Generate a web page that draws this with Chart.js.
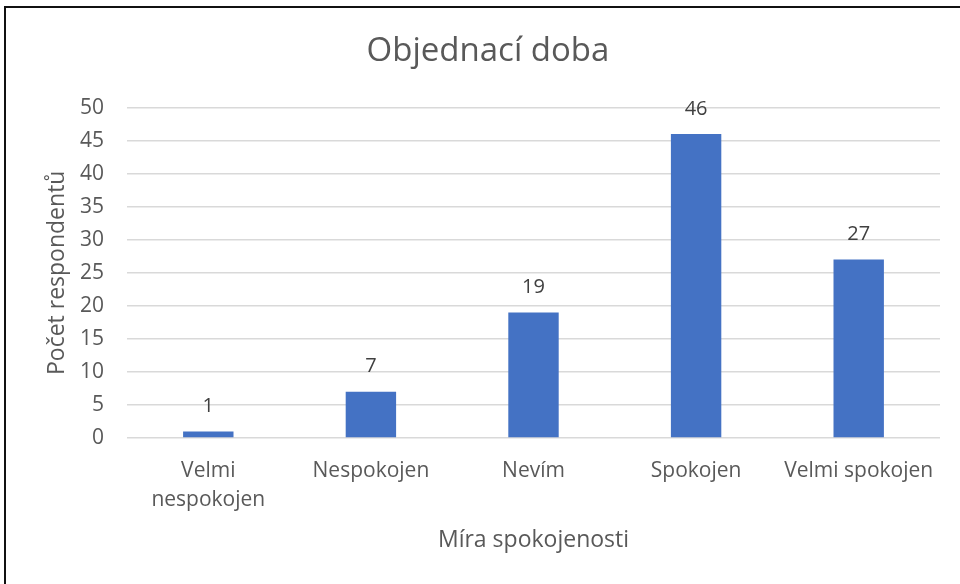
<!DOCTYPE html>
<html>
<head>
<meta charset="utf-8">
<script src="https://cdn.jsdelivr.net/npm/chart.js@4"></script>
<style>
  html, body { margin: 0; padding: 0; background: #fff; }
  #wrap {
    position: absolute; left: 4px; top: 6px; width: 956px; height: 578px;
    border-left: 2px solid #111; border-top: 2px solid #111; box-sizing: border-box;
  }
  #resultChart { position: absolute; left: 0; top: 0; }
</style>
</head>
<body>
<div id="wrap"><canvas id="resultChart" width="954" height="576"></canvas></div>
<script>
const categories = [["Velmi", "nespokojen"], "Nespokojen", "Nevím", "Spokojen", "Velmi spokojen"];
const respondents = [1, 7, 19, 46, 27];
const yTicks = [0, 5, 10, 15, 20, 25, 30, 35, 40, 45, 50];

const FONT = "'Open Sans', 'Noto Sans', sans-serif";

// values above bars
const valueLabels = {
    id: "valueLabels",
    afterDatasetsDraw(chart) {
        const ctx = chart.ctx;
        const meta = chart.getDatasetMeta(0);
        ctx.save();
        ctx.font = "20px " + FONT;
        ctx.fillStyle = "#404040";
        ctx.textAlign = "center";
        ctx.textBaseline = "middle";
        meta.data.forEach((bar, i) => {
            ctx.fillText(String(respondents[i]), bar.x, bar.y - 25);
        });
        ctx.restore();
    },
};

const ctx = document.getElementById("resultChart").getContext("2d");
new Chart(ctx, {
    type: "bar",
    data: {
        labels: categories,
        datasets: [
            {
                data: respondents,
                backgroundColor: "#4472C4",
                borderWidth: 0,
                categoryPercentage: 1,
                barPercentage: 0.31,
            },
        ],
    },
    options: {
        responsive: false,
        animation: false,
        layout: { padding: { left: 30, right: 20, top: 14, bottom: 30 } },
        plugins: {
            legend: { display: false },
            tooltip: { enabled: false },
            title: {
                display: true,
                text: "Objednací doba",
                color: "#595959",
                font: { family: FONT, size: 33, weight: "normal", lineHeight: 1.2 },
                padding: { top: 10, bottom: 36 },
            },
        },
        scales: {
            x: {
                afterFit(axis) {
                    axis.height = 116;
                },
                grid: { display: false },
                border: { display: false },
                ticks: {
                    color: "#595959",
                    font: { family: FONT, size: 21, lineHeight: 1.4 },
                    maxRotation: 0,
                    padding: 10,
                },
                title: {
                    display: true,
                    text: "Míra spokojenosti",
                    color: "#595959",
                    font: { family: FONT, size: 23, lineHeight: 1.2 },
                    padding: { top: 14, bottom: 0 },
                },
            },
            y: {
                min: 0,
                max: 50,
                afterBuildTicks(axis) {
                    axis.ticks = yTicks.map((v) => ({ value: v }));
                },
                afterFit(axis) {
                    axis.width = 91;
                },
                grid: { color: "#d9d9d9", lineWidth: 1.5, drawTicks: false },
                border: { display: false },
                ticks: {
                    color: "#595959",
                    font: { family: FONT, size: 21 },
                    padding: 23,
                },
                title: {
                    display: true,
                    text: "Počet respondentů",
                    color: "#595959",
                    font: { family: FONT, size: 23, lineHeight: 1.2 },
                    padding: { top: 8, bottom: 8 },
                },
            },
        },
    },
    plugins: [valueLabels],
});
</script>
</body>
</html>
